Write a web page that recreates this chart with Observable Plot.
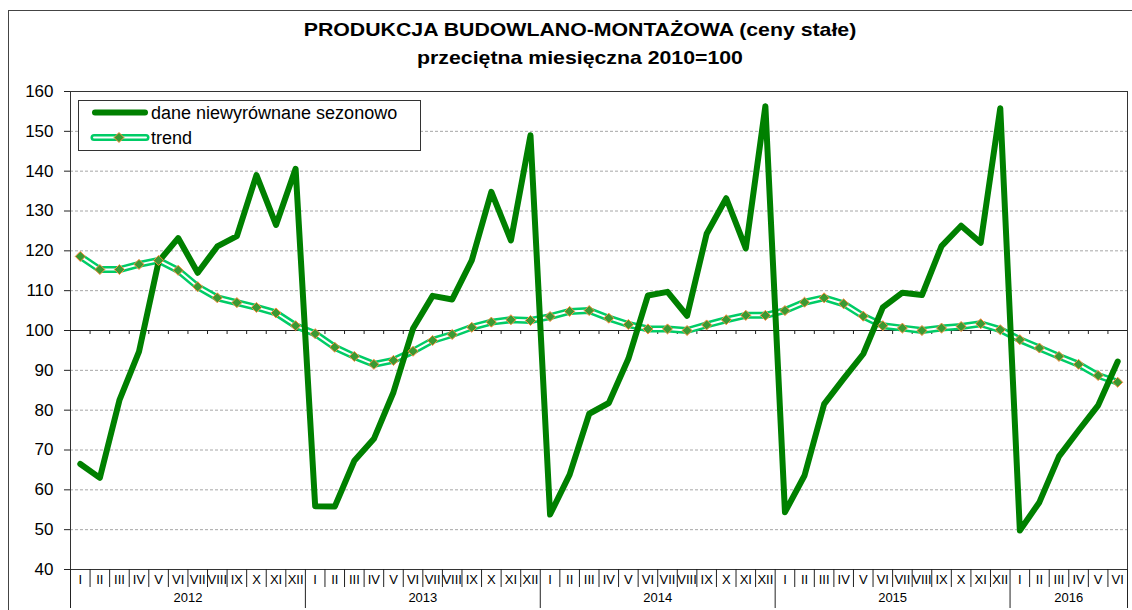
<!DOCTYPE html>
<html>
<head>
<meta charset="utf-8">
<script src="https://cdn.jsdelivr.net/npm/d3@7"></script>
<script src="https://cdn.jsdelivr.net/npm/@observablehq/plot@0.6"></script>
<style>
  html, body { margin: 0; padding: 0; overflow: hidden; width: 1132px; height: 610px; background: #fff; }
  body { position: relative; font-family: "Liberation Sans", Arial, sans-serif; }
  #chart { position: absolute; left: 0; top: 0; }
  #title { position: absolute; left: 280px; top: 16px; width: 600px; text-align: center;
           font-weight: bold; font-size: 19px; line-height: 28.3px; color: #000;
           transform: scaleX(1.12); transform-origin: 300px 0; white-space: nowrap; }
  #outer { position: absolute; left: 8px; top: 10px; width: 1300px; height: 800px;
           border: 1px solid #444; pointer-events: none; }
  #legend { position: absolute; left: 78px; top: 100px; }
</style>
</head>
<body>
<div id="chart"></div>
<div id="title">PRODUKCJA BUDOWLANO-MONTAŻOWA (ceny stałe)<br>przeciętna miesięczna 2010=100</div>
<div id="legend"></div>
<div id="outer"></div>
<script>
// ---- data ----
const monthNames = ["I","II","III","IV","V","VI","VII","VIII","IX","X","XI","XII"];
const years = ["2012","2013","2014","2015","2016"];
const monthsPerYear = [12, 12, 12, 12, 6];

const seriesNames = ["dane niewyrównane sezonowo", "trend"];

const unadjusted = [
  66.5, 63.0, 82.5, 94.7, 117.3, 123.2, 114.5, 121.1, 123.7, 139.0, 126.5, 140.6,
  55.9, 55.8, 67.3, 72.8, 84.5, 100.5, 108.7, 107.8, 117.6, 134.8, 122.6, 149.0,
  53.8, 63.8, 79.1, 81.8, 92.9, 108.8, 109.7, 103.7, 124.3, 133.2, 120.6, 156.3,
  54.4, 63.6, 81.5, 87.9, 94.1, 105.8, 109.5, 108.9, 121.2, 126.3, 122.0, 155.8,
  49.8, 56.9, 68.4, 74.9, 81.2, 92.2
];

const trend = [
  118.6, 115.3, 115.3, 116.6, 117.6, 115.1, 111.0, 108.2, 107.0, 105.8, 104.4, 101.2,
  99.2, 95.8, 93.5, 91.5, 92.5, 94.8, 97.5, 99.0, 100.8, 102.1, 102.7, 102.5,
  103.5, 104.8, 105.0, 103.1, 101.5, 100.4, 100.4, 100.0, 101.4, 102.7, 103.8, 103.8,
  105.0, 107.1, 108.2, 106.7, 103.6, 101.2, 100.6, 100.0, 100.6, 101.0, 101.7, 100.2,
  97.7, 95.6, 93.5, 91.5, 88.7, 87.0
];

const yTicks = [40, 50, 60, 70, 80, 90, 100, 110, 120, 130, 140, 150, 160];
const yBase = 100;

// ---- derived tables ----
const monthLabels = [];
const yearInfo = [];
let start = 0;
years.forEach((y, k) => {
  const n = monthsPerYear[k];
  for (let m = 0; m < n; m++) monthLabels.push({pos: start + m + 0.5, label: monthNames[m]});
  yearInfo.push({start, end: start + n, mid: start + n / 2, label: y});
  start += n;
});
const nMonths = start;
const yearBounds = [0, ...yearInfo.map(d => d.end)];
const monthBounds = d3.range(1, nMonths).filter(b => !yearBounds.includes(b));
const tickBounds = d3.range(1, nMonths);
const gridTicks = yTicks.filter(t => t !== yBase && t !== yTicks[0] && t !== yTicks[yTicks.length - 1]);

const X = (d, i) => i + 0.5;

const squareDiamond = {
  draw(context, size) {
    const h = Math.sqrt(size / 2);
    context.moveTo(0, -h); context.lineTo(h, 0); context.lineTo(0, h); context.lineTo(-h, 0); context.closePath();
  }
};

const mainColor = "#008000";
const trendColor = "#00cc66";
const markerFill = "#3a9a32";
const markerStroke = "#ff8a3d";

const plot = Plot.plot({
  width: 1132,
  height: 610,
  marginLeft: 70,
  marginRight: 5,
  marginTop: 91,
  marginBottom: 41,
  style: {fontFamily: "'Liberation Sans', Arial, sans-serif", color: "#000", background: "transparent", overflow: "visible"},
  x: {type: "linear", domain: [0, nMonths], axis: null},
  y: {domain: [yTicks[0], yTicks[yTicks.length - 1]]},
  marks: [
    Plot.ruleY(gridTicks, {stroke: "#a6a6a6", strokeDasharray: "3,2", strokeWidth: 1}),
    Plot.frame({stroke: "#333"}),
    Plot.ruleY([yBase], {stroke: "#222"}),
    Plot.ruleX(tickBounds, {y1: yBase, y2: yBase, insetBottom: -4, stroke: "#222"}),
    Plot.ruleX(monthBounds, {y1: yTicks[0], y2: yTicks[0], insetBottom: -18, stroke: "#222"}),
    Plot.ruleX(yearBounds, {y1: yTicks[0], y2: yTicks[0], insetBottom: -39, stroke: "#222"}),
    Plot.text(monthLabels, {x: "pos", y: yTicks[0], text: "label", dy: 10, fontSize: 13, lineAnchor: "middle", fill: "#000"}),
    Plot.text(yearInfo, {x: "mid", y: yTicks[0], text: "label", dy: 28, fontSize: 13, lineAnchor: "middle", fill: "#000"}),
    Plot.axisY(yTicks, {tickSize: 6, tickPadding: 11, fontSize: 17, label: null, stroke: "#222"}),
    Plot.line(trend, {x: X, y: d => d, stroke: trendColor, strokeWidth: 7, strokeLinejoin: "round"}),
    Plot.line(trend, {x: X, y: d => d, stroke: "#fff", strokeWidth: 2, strokeLinejoin: "round"}),
    Plot.line(unadjusted, {x: X, y: d => d, stroke: mainColor, strokeWidth: 6, strokeLinejoin: "round", strokeLinecap: "round"}),
    Plot.dot(trend, {x: X, y: d => d, symbol: squareDiamond, r: 4, fill: markerFill, stroke: markerStroke, strokeWidth: 1})
  ]
});
document.getElementById("chart").appendChild(plot);

// ---- legend ----
const lg = d3.select("#legend").append("svg").attr("width", 344).attr("height", 52)
  .style("font-family", "'Liberation Sans', Arial, sans-serif");
lg.append("rect").attr("x", 0.5).attr("y", 0.5).attr("width", 342).attr("height", 50)
  .attr("fill", "#fff").attr("stroke", "#333");
lg.append("line").attr("x1", 17).attr("x2", 67).attr("y1", 12.5).attr("y2", 12.5)
  .attr("stroke", mainColor).attr("stroke-width", 6).attr("stroke-linecap", "round");
lg.append("text").attr("x", 73).attr("y", 18.5).attr("font-size", 18).text(seriesNames[0]);
lg.append("line").attr("x1", 16).attr("x2", 68).attr("y1", 37.5).attr("y2", 37.5)
  .attr("stroke", trendColor).attr("stroke-width", 7).attr("stroke-linecap", "round");
lg.append("line").attr("x1", 16).attr("x2", 68).attr("y1", 37.5).attr("y2", 37.5)
  .attr("stroke", "#fff").attr("stroke-width", 2).attr("stroke-linecap", "round");
lg.append("path").attr("d", "M41,32.5L46,37.5L41,42.5L36,37.5Z")
  .attr("fill", markerFill).attr("stroke", markerStroke);
lg.append("text").attr("x", 73).attr("y", 43.5).attr("font-size", 18).text(seriesNames[1]);
</script>
</body>
</html>
